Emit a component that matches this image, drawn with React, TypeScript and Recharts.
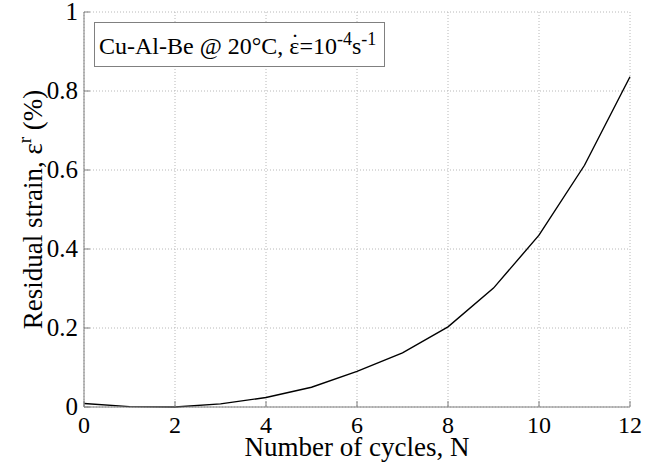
import React from 'react';
import { LineChart, Line, XAxis, YAxis, CartesianGrid } from 'recharts';

const cycles = [0, 1, 2, 3, 4, 5, 6, 7, 8, 9, 10, 11, 12];
const residualStrain = [0.009, 0.001, 0.0, 0.008, 0.024, 0.05, 0.09, 0.137, 0.203, 0.301, 0.435, 0.612, 0.836];
const xTicks = [0, 2, 4, 6, 8, 10, 12];
const yTicks = [0, 0.2, 0.4, 0.6, 0.8, 1];
const yTickLabels = ['0', '0.2', '0.4', '0.6', '0.8', '1'];

const data = cycles.map((n, i) => ({ n, strain: residualStrain[i] }));

const FONT = 'Liberation Serif';
const FRAME = '#7f7f7f';

const renderXTick = (props: any) => {
  const { x, y, payload } = props;
  return (
    <text x={x} y={y} dy={16} textAnchor="middle" fontFamily="serif" fontSize={24} fill="#000">
      {String(payload.value)}
    </text>
  );
};

const renderYTick = (props: any) => {
  const { x, y, payload } = props;
  const label = yTickLabels[yTicks.indexOf(payload.value)] ?? String(payload.value);
  return (
    <text x={x} y={y} dy={8} textAnchor="end" fontFamily="Times New Roman" fontSize={25} fill="#000">
      {label}
    </text>
  );
};

const XTitle = (props: any) => {
  const vb = props.viewBox || { x: 84, y: 407, width: 546, height: 60 };
  return (
    <text x={vb.x + vb.width / 2} y={vb.y + 49} textAnchor="middle" fontFamily={FONT} fontSize={27} fill="#000">
      Number of cycles, N
    </text>
  );
};

const YTitle = (props: any) => {
  const vb = props.viewBox || { x: 0, y: 12, width: 84, height: 395 };
  const cx = vb.x + 42;
  const cy = vb.y + vb.height / 2;
  return (
    <text x={cx} y={cy} textAnchor="middle" transform={`rotate(-90, ${cx}, ${cy})`} fontFamily={FONT} fontSize={27} fill="#000">
      <tspan>Residual strain, ε</tspan>
      <tspan dy={-11} fontSize={19}>r</tspan>
      <tspan dy={11}> (%)</tspan>
    </text>
  );
};

const supStyle: React.CSSProperties = { fontSize: 18, position: 'relative', top: -9 };

export default function App() {
  return (
    <div style={{ position: 'absolute', left: 0, top: 0, width: 662, height: 467, background: '#fff', fontFamily: FONT }}>
      <LineChart width={662} height={467} data={data} margin={{ top: 12, right: 32, bottom: 0, left: 0 }}>
        <CartesianGrid stroke="#b8b8b8" strokeDasharray="1 2" />
        <XAxis
          dataKey="n"
          type="number"
          domain={[0, 12]}
          ticks={xTicks}
          height={60}
          stroke={FRAME}
          tickSize={-6}
          tickMargin={16}
          tick={renderXTick}
          label={<XTitle />}
        />
        <YAxis
          type="number"
          domain={[0, 1]}
          ticks={yTicks}
          width={84}
          stroke={FRAME}
          tickSize={-6}
          tickMargin={12}
          tick={renderYTick}
          label={<YTitle />}
        />
        <XAxis xAxisId="top" orientation="top" type="number" domain={[0, 12]} ticks={xTicks} height={0} mirror tick={false} tickSize={6} stroke={FRAME} />
        <YAxis yAxisId="right" orientation="right" type="number" domain={[0, 1]} ticks={yTicks} width={0} mirror tick={false} tickSize={6} stroke={FRAME} />
        <Line dataKey="strain" type="linear" stroke="#000" strokeWidth={1.4} dot={false} isAnimationActive={false} />
      </LineChart>
      <div
        style={{
          position: 'absolute',
          left: 94,
          top: 22,
          width: 285,
          height: 43,
          border: '1px solid #808080',
          background: '#fff',
          fontFamily: FONT,
          fontSize: 24,
          lineHeight: '46px',
          paddingLeft: 4,
          boxSizing: 'content-box',
          whiteSpace: 'nowrap',
          color: '#000',
        }}
      >
        Cu-Al-Be @ 20°C,{' '}
        <span style={{ position: 'relative', display: 'inline-block' }}>
          ε
          <span style={{ position: 'absolute', left: 1, right: 0, top: -4, textAlign: 'center' }}>˙</span>
        </span>
        =10<span style={supStyle}>-4</span>s<span style={supStyle}>-1</span>
      </div>
    </div>
  );
}
